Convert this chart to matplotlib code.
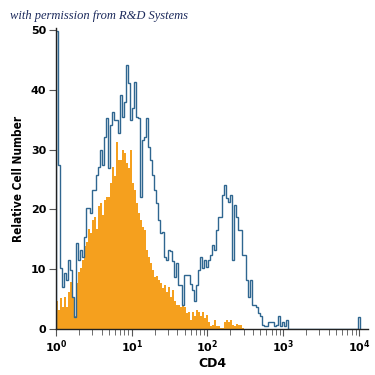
import numpy as np
import matplotlib
matplotlib.use('Agg')
import matplotlib.pyplot as plt
from matplotlib.ticker import LogLocator, NullFormatter, FixedLocator

# histogram channels: log-spaced bins starting at 10^0
bin_width_dec = 0.0264

# stained sample outline (blue), read channel by channel
blue_counts = [
    49.8, 27.4, 10.2, 7.0, 9.4, 8.2, 11.5, 9.9, 5.3, 2.0,
    14.4, 11.5, 13.2, 12.0, 15.4, 20.2, 20.2, 19.4, 23.2, 23.2,
    25.8, 27.1, 29.9, 27.4, 32.1, 35.3, 27.0, 34.1, 36.3, 35.0,
    35.0, 32.8, 39.1, 35.5, 38.0, 44.1, 41.1, 35.0, 37.0, 41.3,
    35.5, 35.3, 22.0, 31.6, 32.1, 35.3, 30.4, 28.3, 25.8, 23.2,
    21.1, 18.2, 16.0, 16.3, 12.1, 11.5, 13.2, 13.0, 11.3, 8.7,
    11.0, 7.4, 7.4, 4.0, 9.0, 9.0, 9.0, 7.6, 6.5, 4.6,
    7.4, 9.9, 12.1, 10.2, 11.5, 10.4, 11.5, 12.4, 14.0, 13.2,
    16.6, 18.8, 18.8, 22.4, 24.1, 21.9, 21.3, 22.4, 11.5, 20.7,
    18.8, 16.6, 16.6, 12.4, 12.4, 8.2, 5.4, 8.2, 4.0, 4.0,
    3.7, 2.6, 2.1, 0.7, 0.5, 0.5, 1.2, 1.2, 1.2, 0.5,
    0.7, 2.1, 0.5, 1.2, 0.5, 1.5, 0, 0, 0, 0,
    0, 0, 0, 0, 0, 0, 0, 0, 0, 0,
    0, 0, 0, 0, 0, 0, 0, 0, 0, 0,
    0, 0, 0, 0, 0, 0, 0, 0, 0, 0,
    0, 2.0,
]

# filled orange histogram
orange_counts = [
    4.6, 3.2, 5.2, 3.7, 5.4, 3.7, 6.2, 7.9, 5.4, 2.1,
    7.7, 9.6, 10.2, 11.5, 13.8, 14.6, 16.8, 16.0, 18.2, 18.8,
    16.8, 20.5, 21.1, 19.1, 21.6, 22.1, 22.1, 24.4, 27.1, 25.5,
    31.3, 28.3, 28.3, 29.9, 29.4, 27.7, 26.9, 29.9, 24.4, 23.2,
    21.1, 19.4, 18.2, 17.1, 16.6, 13.2, 12.1, 11.0, 9.9, 8.7,
    8.9, 8.2, 7.7, 6.8, 7.4, 6.2, 7.0, 5.4, 6.5, 4.6,
    4.0, 4.0, 3.7, 4.0, 3.7, 2.6, 2.8, 1.5, 2.8, 2.1,
    3.1, 2.8, 2.1, 2.8, 1.8, 2.3, 1.2, 0.5, 0.7, 1.5,
    0.5, 0.5, 0.2, 0.2, 1.2, 1.5, 1.2, 1.5, 0.7, 0.5,
    0.8, 0.6, 0.7, 0.2, 0, 0, 0, 0, 0, 0,
]
orange_counts = orange_counts + [0] * (len(blue_counts) - len(orange_counts))

yticks = [0, 10, 20, 30, 40, 50]
xticks = [1, 10, 100, 1000, 10000]
xticklabels = [r'$\mathbf{10^{0}}$', r'$\mathbf{10^{1}}$', r'$\mathbf{10^{2}}$',
               r'$\mathbf{10^{3}}$', r'$\mathbf{10^{4}}$']

edges = 10 ** (bin_width_dec * np.arange(len(blue_counts) + 1))

fig = plt.figure(figsize=(3.75, 3.75), dpi=100)
ax = fig.add_axes([56 / 375, 46 / 375, 312 / 375, 301 / 375])

ax.stairs(orange_counts, edges, fill=True, color='#f5a01e', linewidth=0)
ax.stairs(blue_counts, edges, color='#2f6690', linewidth=1.0)

ax.set_xscale('log')
ax.set_xlim(1, 10 ** 4.119)
ax.set_ylim(0, 50.33)

for s in ['top', 'right']:
    ax.spines[s].set_visible(False)
for s in ['left', 'bottom']:
    ax.spines[s].set_linewidth(1.0)
    ax.spines[s].set_color('#222222')

ax.xaxis.set_major_locator(FixedLocator(xticks))
ax.set_xticklabels(xticklabels)
ax.xaxis.set_minor_locator(LogLocator(base=10, subs=np.arange(2, 10), numticks=20))
ax.xaxis.set_minor_formatter(NullFormatter())
ax.set_yticks(yticks)
ax.set_yticklabels([str(v) for v in yticks], fontweight='bold')

ax.tick_params(axis='both', which='major', length=5, width=0.8, color='#555555',
               labelsize=8, pad=2)
ax.tick_params(axis='x', which='minor', length=4, width=0.6, color='#555555')

ax.set_xlabel('CD4', fontsize=9, fontweight='bold', labelpad=1)
ax.set_ylabel('Relative Cell Number', fontsize=8.5, fontweight='bold', labelpad=4,
              fontstretch='condensed')

fig.text(10 / 375, 1 - 16 / 375, 'with permission from R&D Systems',
         fontsize=9, style='italic', family='Liberation Serif', color='#1c2a5c',
         va='center', ha='left')

fig.savefig('out.png', dpi=100)
